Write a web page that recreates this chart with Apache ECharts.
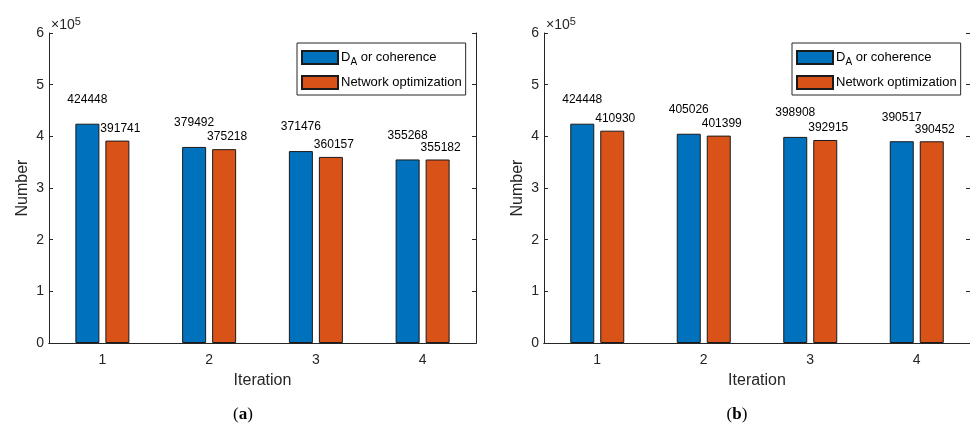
<!DOCTYPE html>
<html><head><meta charset="utf-8">
<script src="https://cdn.jsdelivr.net/npm/echarts@6/dist/echarts.min.js"></script>
<style>html,body{margin:0;padding:0;background:#fff}#c{width:970px;height:427px}</style>
</head><body><div id="c"></div>
<script>
const categories = ['1', '2', '3', '4'];
const seriesNames = ['DA or coherence', 'Network optimization'];
const daA = [424448, 379492, 371476, 355268];
const netA = [391741, 375218, 360157, 355182];
const daB = [424448, 405026, 398908, 390517];
const netB = [410930, 401399, 392915, 390452];
const yTickValues = [0, 1, 2, 3, 4, 5, 6];
const yScale = 100000;
const captions = ['a', 'b'];

const FONT = 'Liberation Sans, Arial, Helvetica, sans-serif';
const AX = '#262626';
const BLUE = '#0072BD';
const ORANGE = '#D95319';

const grids = [
  { left: 49, top: 33, width: 427, height: 310 },
  { left: 544, top: 33, width: 427, height: 310 }
];

const xAxes = [], yAxes = [];
grids.forEach((g, i) => {
  xAxes.push({
    type: 'category', gridIndex: i, data: categories, position: 'bottom',
    axisLine: { lineStyle: { color: AX, width: 1 } },
    axisTick: { inside: true, alignWithLabel: true, length: 4, lineStyle: { color: AX } },
    axisLabel: { margin: 10, fontSize: 14, color: AX, fontFamily: FONT },
    name: 'Iteration', nameLocation: 'middle', nameGap: 30,
    nameTextStyle: { fontSize: 16, color: AX, fontFamily: FONT }
  });
  xAxes.push({
    type: 'category', gridIndex: i, data: categories, position: 'top',
    axisLine: { lineStyle: { color: AX, width: 1 } },
    axisTick: { inside: true, alignWithLabel: true, length: 4, lineStyle: { color: AX } },
    axisLabel: { show: false }
  });
  yAxes.push({
    type: 'value', gridIndex: i, position: 'left',
    min: yTickValues[0] * yScale, max: yTickValues[yTickValues.length - 1] * yScale, interval: yScale,
    axisLine: { show: true, lineStyle: { color: AX, width: 1 } },
    axisTick: { show: true, inside: true, length: 4, lineStyle: { color: AX } },
    axisLabel: { margin: 5, fontSize: 14, color: AX, fontFamily: FONT, formatter: v => String(v / yScale) },
    splitLine: { show: false },
    name: 'Number', nameLocation: 'middle', nameGap: 18,
    nameTextStyle: { fontSize: 16, color: AX, fontFamily: FONT }
  });
  yAxes.push({
    type: 'value', gridIndex: i, position: 'right',
    min: yTickValues[0] * yScale, max: yTickValues[yTickValues.length - 1] * yScale, interval: yScale,
    axisLine: { show: true, lineStyle: { color: AX, width: 1 } },
    axisTick: { show: true, inside: true, length: 4, lineStyle: { color: AX } },
    axisLabel: { show: false },
    splitLine: { show: false }
  });
});

function barSeries(name, data, gi, color, isFirst) {
  return {
    type: 'bar', name: name, data: data,
    xAxisIndex: gi * 2, yAxisIndex: gi * 2,
    barWidth: 24, barGap: '25%',
    itemStyle: { color: color, borderColor: '#1a1a1a', borderWidth: 1 },
    label: {
      show: true, position: 'top',
      distance: isFirst ? 18 : 6,
      offset: isFirst ? [0, 0] : [3, 0],
      fontSize: 12, color: '#000', fontFamily: FONT
    }
  };
}

const series = [
  barSeries(seriesNames[0], daA, 0, BLUE, true),
  barSeries(seriesNames[1], netA, 0, ORANGE, false),
  barSeries(seriesNames[0], daB, 1, BLUE, true),
  barSeries(seriesNames[1], netB, 1, ORANGE, false)
];

const legends = grids.map((g) => ({
  orient: 'vertical',
  left: g.left + g.width - 10 - 169, top: 43,
  data: seriesNames.map(n => ({ name: n, icon: 'rect' })),
  icon: 'rect',
  itemWidth: 36, itemHeight: 13, itemGap: 8,
  padding: [7, 4, 5, 4],
  borderColor: AX, borderWidth: 1, backgroundColor: '#fff',
  selectedMode: false,
  formatter: n => n === seriesNames[0] ? '{m|D}{s|A}{m| or coherence}' : '{m|' + n + '}',
  textStyle: {
    fontFamily: FONT, fontSize: 13, color: '#000', padding: [0, 0, 0, -2],
    rich: {
      m: { fontFamily: FONT, fontSize: 13, color: '#000', lineHeight: 15 },
      s: { fontFamily: FONT, fontSize: 10, color: '#000', padding: [9, 0, 0, 0] }
    }
  }
}));

const graphics = [];
grids.forEach((g, i) => {
  graphics.push({
    type: 'text', left: g.left + 2, top: 16,
    style: {
      text: '{a|×10}{s|5}',
      rich: {
        a: { fontFamily: FONT, fontSize: 14, fill: AX },
        s: { fontFamily: FONT, fontSize: 11, fill: AX, padding: [0, 0, 8, 0] }
      }
    }
  });
});
const captionCenters = [243, 737];
captions.forEach((c, i) => {
  graphics.push({
    type: 'text', x: captionCenters[i], y: 415,
    style: {
      text: '{p|(}{b|' + c + '}{p|)}',
      align: 'center', verticalAlign: 'middle',
      rich: {
        p: { fontFamily: 'Liberation Serif, DejaVu Serif, serif', fontSize: 17, fill: '#000' },
        b: { fontFamily: 'Liberation Serif, DejaVu Serif, serif', fontSize: 17, fontWeight: 'bold', fill: '#000' }
      }
    }
  });
});

const chart = echarts.init(document.getElementById('c'), null, { renderer: 'canvas' });
chart.setOption({
  animation: false,
  backgroundColor: '#fff',
  grid: grids,
  xAxis: xAxes,
  yAxis: yAxes,
  legend: legends,
  series: series,
  graphic: graphics
});
</script>
</body></html>
